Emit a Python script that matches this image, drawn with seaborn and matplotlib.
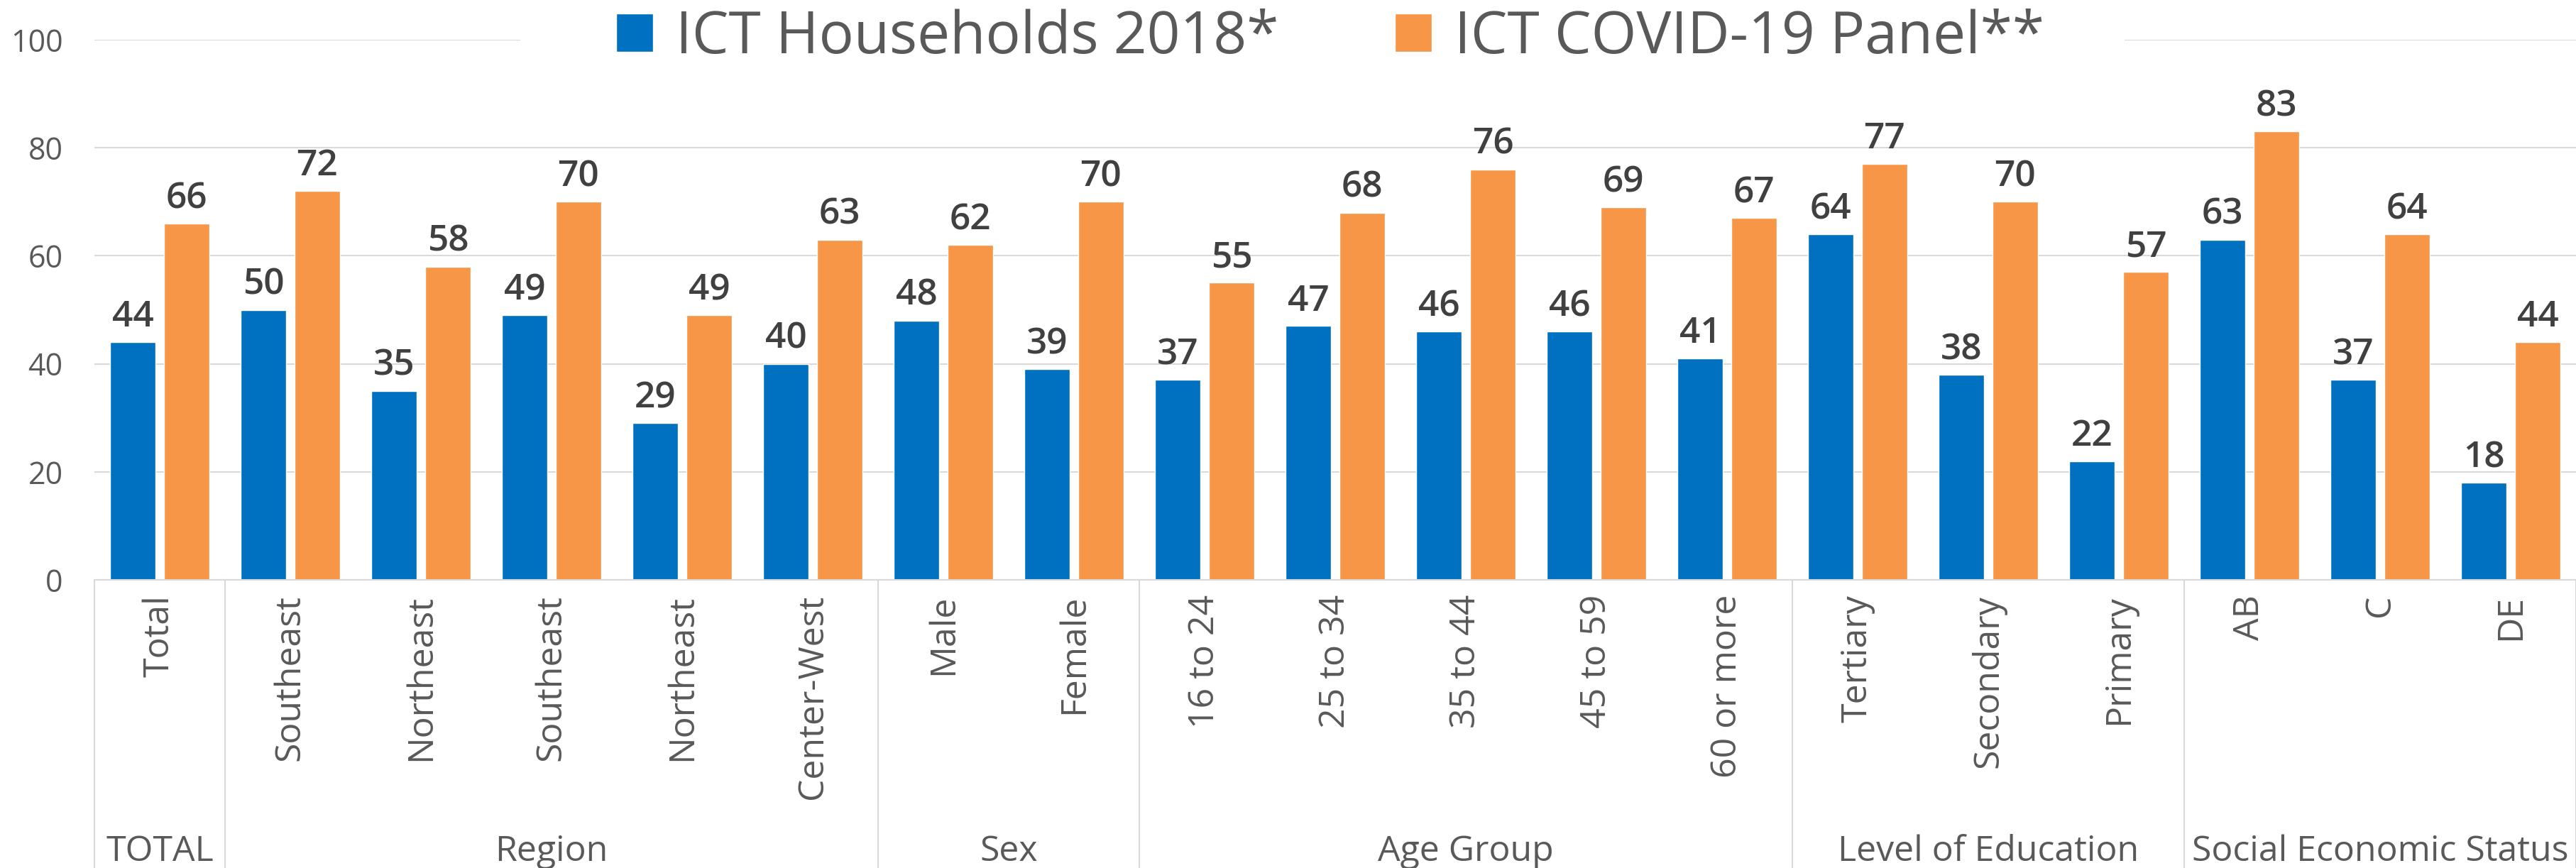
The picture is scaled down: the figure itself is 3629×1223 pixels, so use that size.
import matplotlib
matplotlib.use("Agg")
import matplotlib.pyplot as plt
import seaborn as sns
import pandas as pd
from matplotlib.patches import Rectangle

# chart data
categories = ["Total", "Southeast", "Northeast", "Southeast", "Northeast", "Center-West",
              "Male", "Female", "16 to 24", "25 to 34", "35 to 44", "45 to 59", "60 or more",
              "Tertiary", "Secondary", "Primary", "AB", "C", "DE"]
groups = ["TOTAL", "Region", "Sex", "Age Group", "Level of Education", "Social Economic Status"]
group_sizes = [1, 5, 2, 5, 3, 3]
households_2018 = [44, 50, 35, 49, 29, 40, 48, 39, 37, 47, 46, 46, 41, 64, 38, 22, 63, 37, 18]
covid_panel = [66, 72, 58, 70, 49, 63, 62, 70, 55, 68, 76, 69, 67, 77, 70, 57, 83, 64, 44]
series = ["ICT Households 2018*", "ICT COVID-19 Panel**"]
colors = ["#0070C0", "#F79646"]

# long table, one unique key per category slot (labels repeat)
keys = [str(i) for i in range(len(categories))]
df = pd.DataFrame({
    "key": keys * 2,
    "value": households_2018 + covid_panel,
    "series": [series[0]] * len(keys) + [series[1]] * len(keys),
})

sns.set_style("white")
plt.rcParams["font.family"] = ["Open Sans", "DejaVu Sans"]

GRAY = "#D9D9D9"
TXT = "#595959"

fig = plt.figure(figsize=(36.3, 12.23), dpi=100)
ax = fig.add_axes([133 / 3630, 1 - 817 / 1223, 3496 / 3630, 761 / 1223])

sns.barplot(data=df, x="key", y="value", hue="series", order=keys, hue_order=series,
            palette=colors, width=0.826, gap=0.17, saturation=1, errorbar=None, ax=ax)

for cont in ax.containers:
    ax.bar_label(cont, fmt="%.0f", padding=7, fontsize=37, fontweight="semibold",
                 color="#404040")

ax.set_xlim(-0.5, len(categories) - 0.5)
ax.set_ylim(0, 100)
ax.set_yticks(range(0, 101, 20))
ax.yaxis.grid(True, color=GRAY, linewidth=1.5)
ax.set_axisbelow(True)
sns.despine(ax=ax, left=True)
ax.spines["bottom"].set_color(GRAY)
ax.spines["bottom"].set_linewidth(1.5)
ax.set_xlabel("")
ax.set_ylabel("")

ax.set_xticks(range(len(categories)))
ax.set_xticklabels(categories, rotation=90, va="top", ha="center")
ax.tick_params(axis="x", length=0, pad=15, labelsize=36, labelcolor=TXT)
ax.tick_params(axis="y", length=0, pad=32, labelsize=31, labelcolor=TXT)

# group separators and group labels under the category labels
xt = ax.get_xaxis_transform()
start = -0.5
ax.plot([start, start], [0, -0.54], transform=xt, color=GRAY, lw=1.5, clip_on=False)
for name, n in zip(groups, group_sizes):
    end = start + n
    ax.plot([end, end], [0, -0.54], transform=xt, color=GRAY, lw=1.5, clip_on=False)
    ax.text((start + end) / 2, -0.520, name, transform=xt, ha="center", va="baseline",
            fontsize=36, color=TXT)
    start = end

# legend sits on top of the 100 gridline with a white box behind it
ax.add_patch(Rectangle((0.1716, 0.98), 0.818 - 0.1716, 0.04, transform=ax.transAxes,
                       facecolor="white", edgecolor="none", zorder=2, clip_on=False))
handles, labels = ax.get_legend_handles_labels()
ax.legend(handles, labels, loc="center", bbox_to_anchor=(0.498, 1.003), ncol=2,
          frameon=False, fontsize=59, labelcolor=TXT, handlelength=0.63, handleheight=0.63,
          handletextpad=0.39, columnspacing=2.0, borderpad=0)

fig.savefig("out.png", dpi=100)
